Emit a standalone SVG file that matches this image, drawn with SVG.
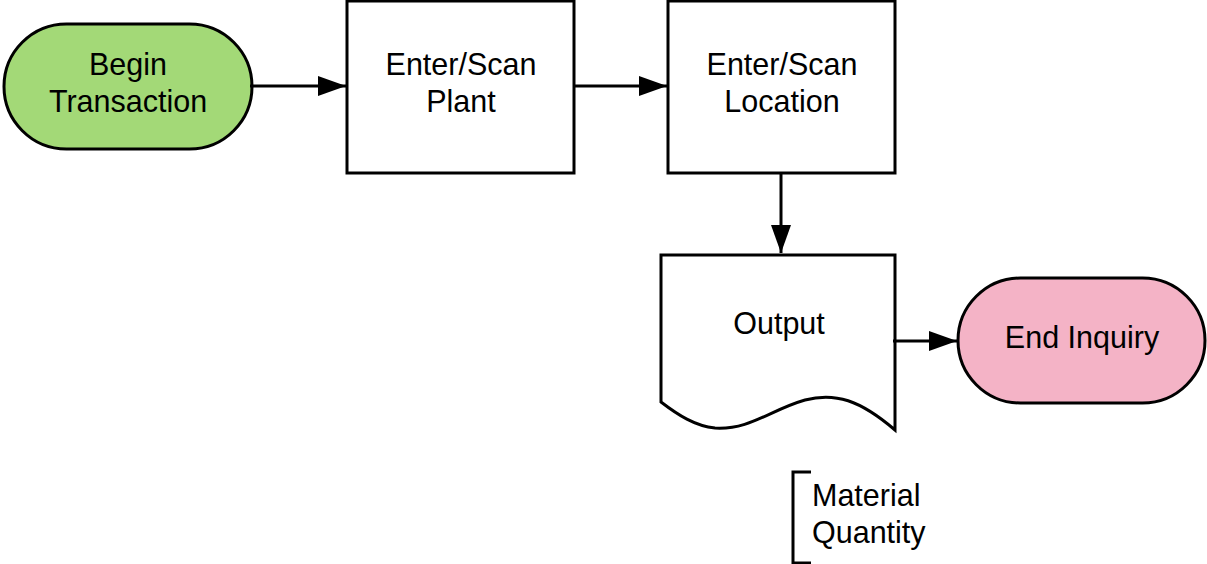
<svg xmlns="http://www.w3.org/2000/svg" width="1207" height="564" viewBox="0 0 1207 564">
<defs>
<style>
.shape{stroke:#000;stroke-width:3;}
.t{font-family:"Liberation Sans",Arial,sans-serif;font-size:30.5px;fill:#000;text-anchor:middle;}
.l{text-anchor:start;}
.conn{stroke:#000;stroke-width:3;fill:none;}
</style>
<marker id="ah" markerUnits="userSpaceOnUse" markerWidth="30" markerHeight="22" refX="28" refY="10" orient="auto">
<path d="M0,0 L28,10 L0,20 Z" fill="#000"/>
</marker>
</defs>
<rect width="1207" height="564" fill="#fff"/>
<g id="begin">
<rect class="shape" x="4" y="24" width="248" height="125" rx="62.5" fill="#a3d977"/>
<text class="t" x="128" y="75">Begin</text>
<text class="t" x="128" y="112">Transaction</text>
</g>
<g id="plant">
<rect class="shape" x="347" y="1" width="227" height="172" fill="#fff"/>
<text class="t" x="461" y="75">Enter/Scan</text>
<text class="t" x="461" y="112">Plant</text>
</g>
<g id="location">
<rect class="shape" x="668" y="1" width="227" height="172" fill="#fff"/>
<text class="t" x="782" y="75">Enter/Scan</text>
<text class="t" x="782" y="112">Location</text>
</g>
<g id="output">
<path class="shape" d="M661,255 H895 V430 C860,400 835,392 805,400 C770,410 750,430 715,428 C695,426 678,415 661,402 Z" fill="#fff"/>
<text class="t" x="779" y="334">Output</text>
</g>
<g id="end">
<rect class="shape" x="958" y="278" width="247" height="125" rx="62.5" fill="#f4b3c6"/>
<text class="t" x="1082" y="348">End Inquiry</text>
</g>
<g id="note">
<path d="M811,472 H793 V563 H811" fill="none" stroke="#000" stroke-width="3"/>
<text class="t l" x="812" y="506">Material</text>
<text class="t l" x="812" y="543">Quantity</text>
</g>
<g id="connectors">
<line class="conn" x1="250" y1="86" x2="346" y2="86" marker-end="url(#ah)"/>
<line class="conn" x1="573" y1="86" x2="667" y2="86" marker-end="url(#ah)"/>
<line class="conn" x1="781" y1="173" x2="781" y2="253" marker-end="url(#ah)"/>
<line class="conn" x1="893" y1="341" x2="957" y2="341" marker-end="url(#ah)"/>
</g>
</svg>
